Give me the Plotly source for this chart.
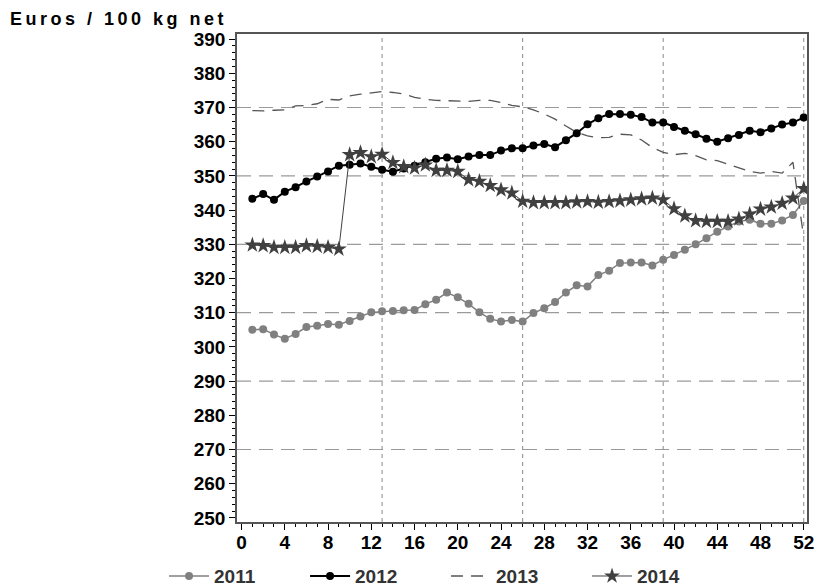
import plotly.graph_objects as go

weeks = list(range(1, 53))

p2011 = [305.0, 305.2, 303.6, 302.4, 303.8, 305.8, 306.2, 306.7, 306.5, 307.6,
         308.9, 310.1, 310.4, 310.5, 310.7, 310.8, 312.5, 313.8, 315.9, 314.5,
         312.6, 310.1, 308.2, 307.4, 307.9, 307.4, 309.9, 311.3, 313.1, 315.9,
         318.0, 317.7, 321.0, 322.3, 324.5, 324.7, 324.7, 323.8, 325.5, 326.9,
         328.4, 330.0, 331.8, 333.7, 335.2, 336.7, 337.2, 336.0, 336.0, 337.0,
         338.6, 342.7]

p2012 = [343.3, 344.7, 343.0, 345.4, 346.7, 348.4, 349.8, 351.3, 353.0, 353.3,
         353.6, 352.7, 351.8, 351.2, 352.2, 353.0, 354.0, 355.0, 355.4, 354.9,
         355.7, 356.1, 356.1, 357.4, 358.1, 358.1, 358.9, 359.3, 358.4, 360.4,
         362.5, 365.1, 366.9, 368.1, 368.1, 367.9, 367.2, 365.6, 365.6, 364.3,
         363.2, 362.2, 360.9, 360.0, 361.0, 362.0, 363.2, 362.8, 363.9, 365.0,
         365.6, 367.1]

p2013 = [369.1, 369.0, 369.2, 369.3, 370.5, 370.6, 371.1, 372.4, 372.2, 373.4,
         373.9, 374.2, 374.7, 374.4, 374.0, 373.0, 372.4, 372.1, 372.0, 371.8,
         371.8, 372.1, 372.1, 371.5, 370.6, 370.2, 369.3, 368.1, 366.6, 364.6,
         362.7, 361.7, 361.2, 361.3, 362.2, 362.0, 360.5, 358.3, 356.9, 356.2,
         356.6, 355.9, 354.7, 354.5, 353.4, 352.3, 351.3, 350.8, 351.3, 350.8,
         354.0, 332.0]

p2014 = [329.8, 329.6, 329.1, 329.1, 329.1, 329.6, 329.4, 329.1, 328.6,
         356.2, 356.8, 355.6, 356.3, 353.9, 352.7, 352.3, 353.2, 351.6, 351.6, 351.3,
         348.9, 348.4, 347.2, 345.9, 345.0, 342.6, 342.2, 342.2, 342.2, 342.2,
         342.4, 342.5, 342.3, 342.5, 342.7, 343.0, 343.3, 343.5, 343.0, 340.4,
         338.3, 336.9, 336.7, 336.7, 336.7, 337.4, 338.8, 340.3, 340.9, 342.0,
         343.5, 346.3]

x_ticks = list(range(0, 53, 4))
y_ticks = list(range(250, 391, 10))
h_grid = [270, 290, 310, 330, 350, 370]
v_grid = [13, 26, 39, 52]

FONT = "Liberation Sans, Arial, sans-serif"

fig = go.Figure()

fig.add_trace(go.Scatter(x=weeks, y=p2011, name="2011", mode="lines+markers",
                         line=dict(color="#808080", width=1.5),
                         marker=dict(symbol="circle", size=8, color="#808080")))
fig.add_trace(go.Scatter(x=weeks, y=p2012, name="2012", mode="lines+markers",
                         line=dict(color="#000000", width=2),
                         marker=dict(symbol="circle", size=8, color="#000000")))
fig.add_trace(go.Scatter(x=weeks, y=p2013, name="2013", mode="lines",
                         line=dict(color="#555555", width=1.3, dash="12px,8px")))
fig.add_trace(go.Scatter(x=weeks, y=p2014, name="2014", mode="lines+markers",
                         line=dict(color="#404040", width=1),
                         marker=dict(symbol="star", size=12, color="#404040")))

for g in h_grid:
    fig.add_hline(y=g, line=dict(color="#9a9a9a", width=1.2, dash="14px,8px"), layer="below")
for g in v_grid:
    fig.add_vline(x=g, line=dict(color="#8a8a8a", width=1, dash="4px,4px"), layer="below")

fig.update_layout(
    width=818, height=588,
    margin=dict(l=237, r=11, t=34, b=66, autoexpand=False),
    plot_bgcolor="white", paper_bgcolor="white",
    font=dict(family=FONT, size=18, color="#000000"),
    showlegend=True,
    legend=dict(orientation="h", x=-0.128, xanchor="left", y=-0.072, yanchor="top",
                font=dict(family=FONT, size=19, color="#333333", weight="bold"),
                entrywidth=86, itemwidth=40, bgcolor="rgba(0,0,0,0)"),
    xaxis=dict(range=[-0.42, 52.3], tickvals=x_ticks, ticks="outside", ticklen=6,
               tickcolor="#000", showgrid=False, zeroline=False, automargin=False,
               showline=True, linecolor="#555555", linewidth=1.5, mirror=True,
               ticklabelstandoff=-4,
               tickfont=dict(family=FONT, size=19, weight="bold"),
               minor=dict(dtick=1, tick0=0, ticks="outside", ticklen=3, tickcolor="#000", showgrid=False)),
    yaxis=dict(range=[248.8, 391.5], tickvals=y_ticks, ticks="outside", ticklen=6,
               tickcolor="#000", showgrid=False, zeroline=False, automargin=False,
               showline=True, linecolor="#555555", linewidth=1.5, mirror=True,
               tickfont=dict(family=FONT, size=19, weight="bold"),
               minor=dict(dtick=2, tick0=250, ticks="outside", ticklen=3, tickcolor="#000", showgrid=False)),
    annotations=[dict(text='<span style="letter-spacing:3.5px">Euros / 100 kg net</span>',
                      xref="paper", yref="paper",
                      x=-0.402, y=1.03, xanchor="left", yanchor="middle", showarrow=False,
                      font=dict(family=FONT, size=18, weight="bold", color="#000"))],
)

fig.write_html("out.html", config={"displayModeBar": False},
               post_script="document.body.style.margin='0';document.body.style.overflow='hidden';")
